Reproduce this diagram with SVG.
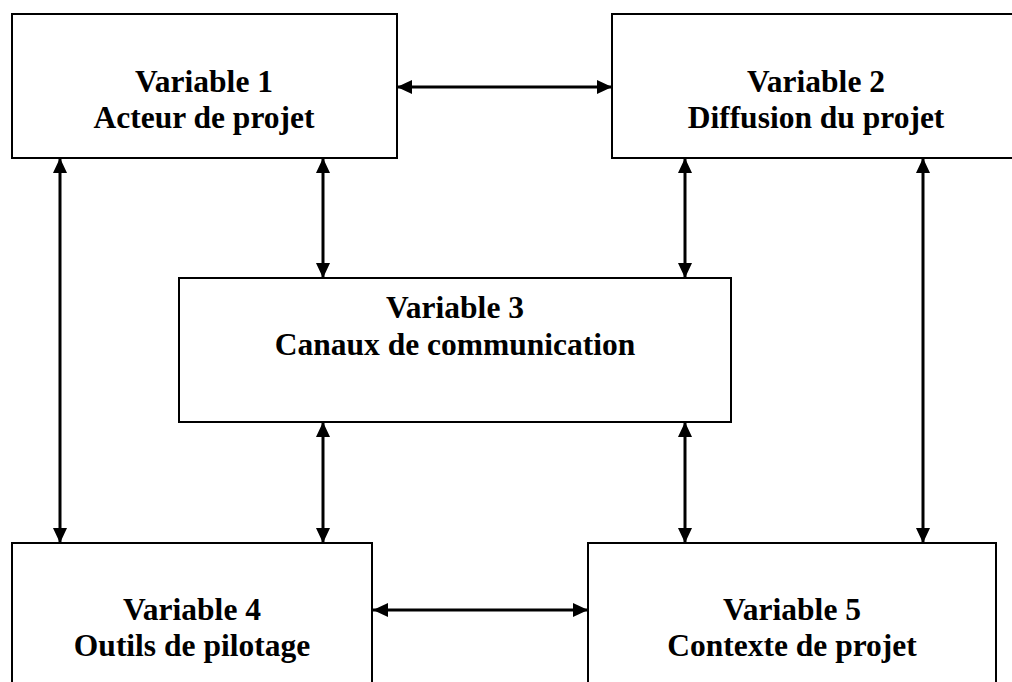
<svg xmlns="http://www.w3.org/2000/svg" width="1012" height="682" viewBox="0 0 1012 682">
<style>
.box{fill:#fff;stroke:#000;stroke-width:2}
.t{font-family:"Liberation Serif","Times New Roman",serif;font-weight:bold;font-size:31.5px;text-anchor:middle;fill:#000}
.c{stroke:#000;stroke-width:3;fill:none;marker-start:url(#ah);marker-end:url(#ah)}
</style>
<defs>
<marker id="ah" markerUnits="userSpaceOnUse" markerWidth="16" markerHeight="14" refX="15" refY="7" orient="auto-start-reverse" viewBox="0 0 16 14">
<path d="M0,0 L15,7 L0,14 z" fill="#000"/>
</marker>
</defs>
<rect width="1012" height="682" fill="#fff"/>
<g id="connectors">
<line class="c" x1="397" y1="87" x2="612" y2="87"/>
<line class="c" x1="373" y1="610" x2="588" y2="610"/>
<line class="c" x1="60" y1="158" x2="60" y2="543"/>
<line class="c" x1="923" y1="158" x2="923" y2="543"/>
<line class="c" x1="323" y1="158" x2="323" y2="278"/>
<line class="c" x1="685" y1="158" x2="685" y2="278"/>
<line class="c" x1="323" y1="422" x2="323" y2="543"/>
<line class="c" x1="685" y1="422" x2="685" y2="543"/>
</g>
<g id="v1">
<rect class="box" x="12" y="14" width="385" height="144"/>
<text class="t" x="204" y="92">Variable 1</text>
<text class="t" x="204" y="128">Acteur de projet</text>
</g>
<g id="v2">
<rect class="box" x="612" y="14" width="408" height="144"/>
<text class="t" x="816" y="92">Variable 2</text>
<text class="t" x="816" y="128">Diffusion du projet</text>
</g>
<g id="v3">
<rect class="box" x="179" y="278" width="552" height="144"/>
<text class="t" x="455" y="318">Variable 3</text>
<text class="t" x="455" y="355">Canaux de communication</text>
</g>
<g id="v4">
<rect class="box" x="12" y="543" width="360" height="144"/>
<text class="t" x="192" y="620">Variable 4</text>
<text class="t" x="192" y="656">Outils de pilotage</text>
</g>
<g id="v5">
<rect class="box" x="588" y="543" width="408" height="144"/>
<text class="t" x="792" y="620">Variable 5</text>
<text class="t" x="792" y="656">Contexte de projet</text>
</g>
</svg>
